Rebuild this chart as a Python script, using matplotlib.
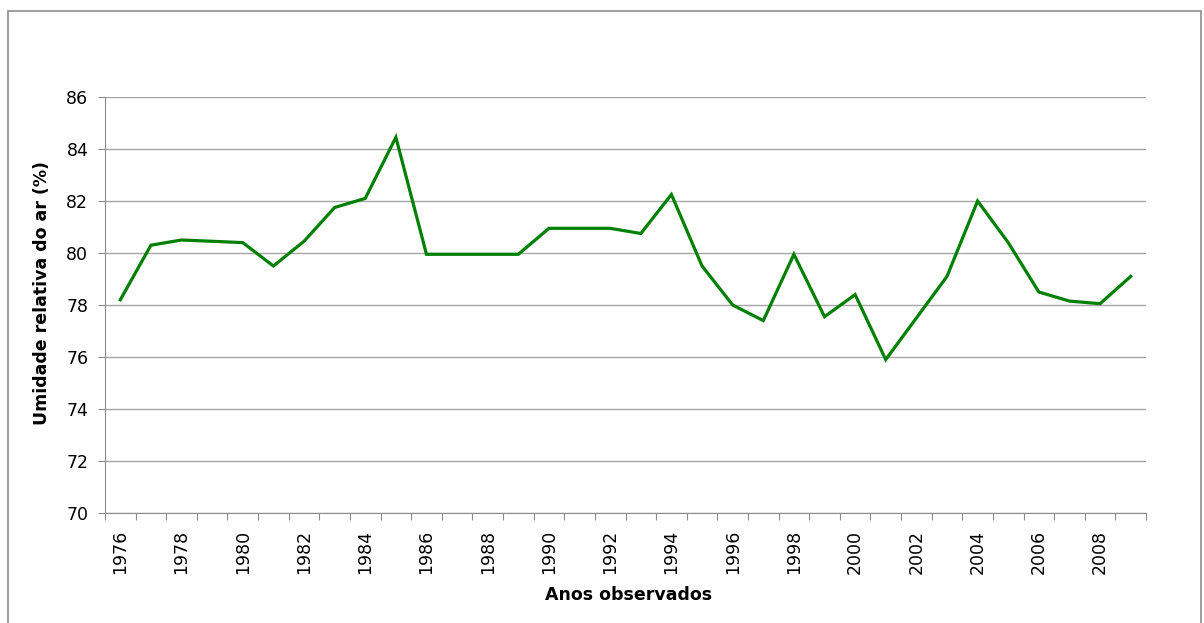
import numpy as np
import matplotlib
matplotlib.use("Agg")
import matplotlib.pyplot as plt
from matplotlib.patches import Rectangle

plt.rcParams['font.family'] = ['DejaVu Sans']

# Annual mean relative humidity
anos = list(range(1976, 2010))
umidade = [78.2, 80.3, 80.5, 80.45, 80.4, 79.5, 80.45, 81.75, 82.1, 84.45,
           79.95, 79.95, 79.95, 79.95, 80.95, 80.95, 80.95, 80.75, 82.25, 79.5,
           78.0, 77.4, 79.95, 77.55, 78.4, 75.9, 77.5, 79.1, 82.0, 80.4,
           78.5, 78.15, 78.05, 79.1]
y_ticks = [70, 72, 74, 76, 78, 80, 82, 84, 86]

fig = plt.figure(figsize=(12.04, 6.23), dpi=100)
ax = fig.add_axes([105 / 1204, 1 - 513 / 623, (1146 - 105) / 1204, (513 - 97) / 623])

# outer chart border
fig.patches.append(Rectangle((8 / 1204, -0.01), (1201 - 8) / 1204, 1 - 11 / 623 + 0.01,
                             transform=fig.transFigure, fill=False,
                             edgecolor='#8c8c8c', linewidth=1.2))

x = np.arange(len(anos))
ax.plot(x, umidade, color='#008000', linewidth=2.3, solid_joinstyle='miter')

ax.set_ylim(70, 86)
ax.set_yticks(y_ticks)
ax.grid(axis='y', color='#a6a6a6', linewidth=1)
ax.set_axisbelow(True)

ax.set_xlim(-0.5, len(anos) - 0.5)
ax.set_xticks(np.arange(-0.5, len(anos), 1))
ax.set_xticklabels([])
ax.set_xticks(x[::2], minor=True)
ax.set_xticklabels([str(a) for a in anos[::2]], minor=True, rotation=90)
ax.tick_params(axis='x', which='major', length=5, color='#8c8c8c', direction='out')
ax.tick_params(axis='x', which='minor', length=0, pad=12, labelsize=12.5)
ax.tick_params(axis='y', length=5, color='#8c8c8c', labelsize=12.5, pad=7)

for s in ['top', 'right']:
    ax.spines[s].set_visible(False)
for s in ['left', 'bottom']:
    ax.spines[s].set_color('#8c8c8c')

ax.set_xlabel('Anos observados', fontsize=12.5, fontweight='bold')
ax.xaxis.set_label_coords(0.503, -0.176)
ax.set_ylabel('Umidade relativa do ar (%)', fontsize=12.5, fontweight='bold')
ax.yaxis.set_label_coords(-0.052, 0.53)

fig.savefig('out.png', dpi=100)
